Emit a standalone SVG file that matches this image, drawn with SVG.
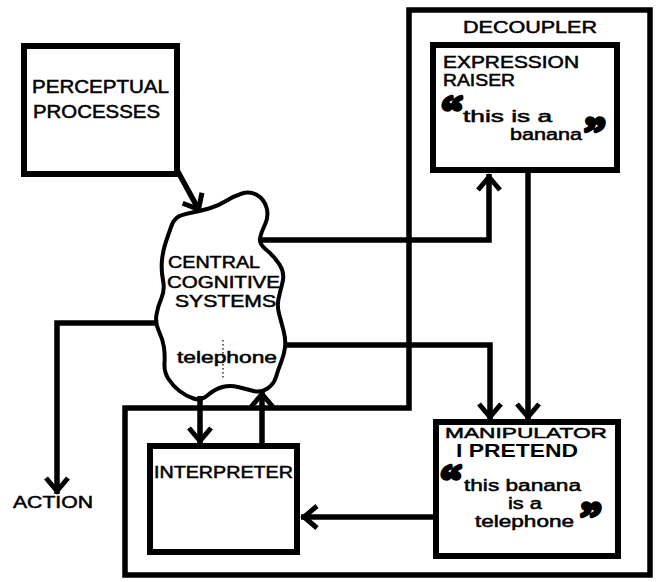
<svg xmlns="http://www.w3.org/2000/svg" width="656" height="582" viewBox="0 0 656 582">
<defs>
<style>
.box{fill:#fff;stroke:#000;stroke-width:6}
.dec{fill:none;stroke:#000;stroke-width:5.5;stroke-linejoin:miter}
.cloud{fill:#fff;stroke:#000;stroke-width:4;stroke-linejoin:round}
.con{fill:none;stroke:#000;stroke-width:5.5;stroke-linejoin:miter}
.t{font-family:"Liberation Sans",Arial,sans-serif;font-size:16.5px;fill:#000;stroke:#000;stroke-width:0.5}
.tl{font-family:"Liberation Sans",Arial,sans-serif;font-size:16px;fill:#000;stroke:#000;stroke-width:0.5}
.tb{font-family:"Liberation Sans",Arial,sans-serif;font-size:19px;font-weight:bold;fill:#000}
.q{font-family:"Liberation Serif","Times New Roman",serif;font-size:44px;font-weight:bold;fill:#000;stroke:#000;stroke-width:3.5;stroke-linejoin:round}
.dot{fill:none;stroke:#000;stroke-width:1.2;stroke-dasharray:1.5 2.5}
</style>
<marker id="ah" markerUnits="userSpaceOnUse" viewBox="-20 -15 30 30" markerWidth="30" markerHeight="30" refX="3" refY="0" orient="auto" overflow="visible">
<path d="M-13,-11 L0,0 L-13,11" fill="none" stroke="#000" stroke-width="5"/>
</marker>
</defs>

<g id="decoupler">
<path class="dec" d="M409,10 L650,10 L650,575 L125,575 L125,408 L409,408 Z"/>
<text class="t" x="463" y="33" textLength="134" lengthAdjust="spacingAndGlyphs">DECOUPLER</text>
</g>

<g id="perceptual">
<rect class="box" x="24" y="46" width="153" height="128"/>
<text class="t" x="32" y="93" style="font-size:18px" textLength="137" lengthAdjust="spacingAndGlyphs">PERCEPTUAL</text>
<text class="t" x="33" y="118" style="font-size:18px" textLength="127" lengthAdjust="spacingAndGlyphs">PROCESSES</text>
</g>

<g id="raiser">
<rect class="box" x="433" y="45" width="184" height="125"/>
<text class="t" x="443" y="68" textLength="136" lengthAdjust="spacingAndGlyphs">EXPRESSION</text>
<text class="t" x="443" y="85.5" style="font-size:16px" textLength="72" lengthAdjust="spacingAndGlyphs">RAISER</text>
<text class="q" x="441" y="126">“</text>
<text class="tl" x="463" y="122" textLength="89" lengthAdjust="spacingAndGlyphs">this is a</text>
<text class="tl" x="510" y="140" textLength="72" lengthAdjust="spacingAndGlyphs">banana</text>
<text class="q" x="584" y="147">”</text>
</g>

<g id="manipulator">
<rect class="box" x="436" y="422" width="182" height="134"/>
<text class="t" x="445" y="438" style="font-size:15.5px" textLength="162" lengthAdjust="spacingAndGlyphs">MANIPULATOR</text>
<text class="tb" x="456" y="457" textLength="122" lengthAdjust="spacingAndGlyphs">I PRETEND</text>
<text class="q" x="440" y="495">“</text>
<text class="tl" x="464" y="491" textLength="117" lengthAdjust="spacingAndGlyphs">this banana</text>
<text class="tl" x="508" y="509" textLength="34" lengthAdjust="spacingAndGlyphs">is a</text>
<text class="tl" x="475" y="527" textLength="99" lengthAdjust="spacingAndGlyphs">telephone</text>
<text class="q" x="580" y="532">”</text>
</g>

<g id="interpreter">
<rect class="box" x="150" y="446" width="147" height="106"/>
<text class="t" x="154" y="478" textLength="139" lengthAdjust="spacingAndGlyphs">INTERPRETER</text>
</g>

<g id="central">
<path class="cloud" d="M176.5,218 Q180,215 190,213 Q200,211 209,208.5 Q218,206 226,201 Q234,196 242,193.5 Q250,191 257,195 Q264,199 266.5,207.5 Q269,216 265,224.5 Q261,233 260,238.5 Q259,244 266.5,250 Q274,256 279.5,264.5 Q285,273 282.5,282.5 Q280,292 278.5,299 Q277,306 279,313.5 Q281,321 283.5,330.5 Q286,340 285,347.5 Q284,355 281,362.5 Q278,370 276,377 Q274,384 267.5,388.5 Q261,393 253.5,391 Q246,389 238,387 Q230,385 222.5,387 Q215,389 208,395 Q201,401 193.5,398.5 Q186,396 179.5,391 Q173,386 168.5,379 Q164,372 164.5,363.5 Q165,355 164,347.5 Q163,340 159,331.5 Q155,323 156.5,314.5 Q158,306 161.5,298 Q165,290 163,280 Q161,270 162,260 Q163,250 166,241.5 Q169,233 171,227 Q173,221 176.5,218 Z"/>
<text class="t" x="168" y="268" textLength="92" lengthAdjust="spacingAndGlyphs">CENTRAL</text>
<text class="t" x="167" y="288" textLength="113" lengthAdjust="spacingAndGlyphs">COGNITIVE</text>
<text class="t" x="175" y="307" textLength="101" lengthAdjust="spacingAndGlyphs">SYSTEMS</text>
<line class="dot" x1="223" y1="340" x2="223" y2="378"/>
<text class="tl" x="177" y="363" textLength="100" lengthAdjust="spacingAndGlyphs">telephone</text>
</g>

<g id="action">
<text class="t" x="13" y="508" textLength="80" lengthAdjust="spacingAndGlyphs">ACTION</text>
</g>

<g id="connectors">
<path class="con" d="M177,170 L200,212" marker-end="url(#ah)"/>
<path class="con" d="M261,240 L489,240 L489,174" marker-end="url(#ah)"/>
<path class="con" d="M528,173 L528,420" marker-end="url(#ah)"/>
<path class="con" d="M284,345 L490,345 L490,420" marker-end="url(#ah)"/>
<path class="con" d="M433,517 L301,517" marker-end="url(#ah)"/>
<path class="con" d="M200,396 L200,444" marker-end="url(#ah)"/>
<path class="con" d="M262,449 L262,391" marker-end="url(#ah)"/>
<path class="con" d="M158,323 L57,323 L57,494" marker-end="url(#ah)"/>
</g>
</svg>
